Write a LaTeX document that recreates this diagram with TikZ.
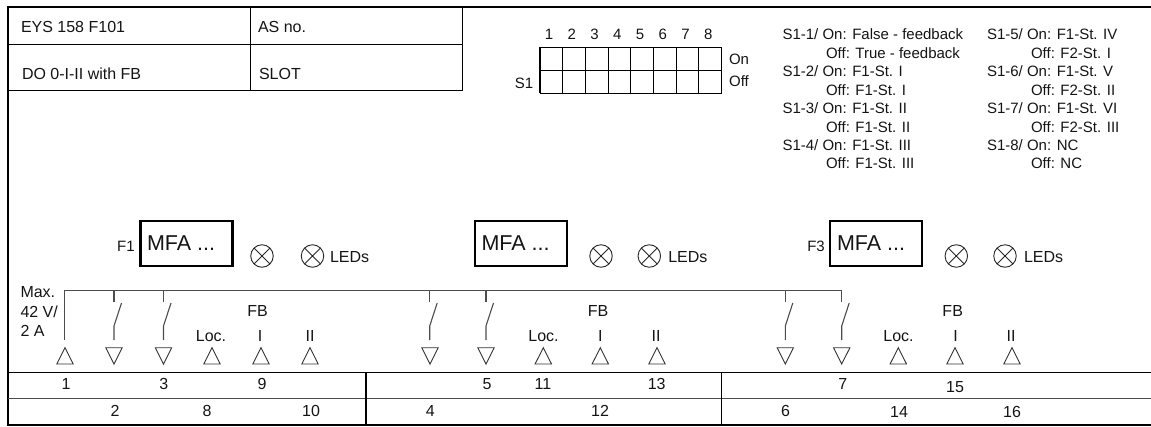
\documentclass[tikz,border=0pt]{standalone}
\usepackage{fontspec}
\setmainfont{Liberation Sans}
\tikzset{
  every node/.style={inner sep=0pt,outer sep=0pt,text=black!92},
  lbl/.style={font=\fontsize{16}{16}\selectfont,anchor=center},
  sml/.style={font=\fontsize{15}{15}\selectfont,anchor=center},
  lft/.style={font=\fontsize{16}{16}\selectfont,anchor=west},
  leg/.style={font=\fontsize{15}{15}\selectfont,anchor=west},
  mfabox/.style={draw=black,line width=2.2pt,minimum width=92pt,minimum height=45pt},
  mfatxt/.style={font=\fontsize{21.5}{22}\selectfont,anchor=west},
  ring/.style={draw=black!85,line width=0.9pt,circle,minimum size=22.5pt},
  wire/.style={draw=black!70,line width=1.1pt},
  thin line/.style={draw=black,line width=1.1pt},
  frame/.style={draw=black,line width=2.4pt},
  tri/.style={draw=black!80,line width=0.9pt},
}
\newcommand{\uptri}[1]{\draw[tri] (#1-8.2,364) -- (#1+8.2,364) -- (#1,347.7) -- cycle;}
\newcommand{\dntri}[1]{\draw[tri] (#1-8.2,347.7) -- (#1+8.2,347.7) -- (#1,364) -- cycle;}
\newcommand{\swt}[1]{
  \draw[wire] (#1,291) -- (#1,302);
  \draw[wire] (#1,340) -- (#1,326) -- (#1+7.5,303);
}
\newcommand{\lampat}[2]{
  \node[ring] (#2) at (#1,256) {};
  \draw[black!85,line width=0.9pt] (#2.45) -- (#2.225) (#2.135) -- (#2.315);
}
\begin{document}
\begin{tikzpicture}[x=1pt,y=-1pt]
\useasboundingbox (0,0) rectangle (1151,426);
% outer frame
\draw[frame] (1151,7) -- (8,7) -- (8,425) -- (1151,425);
% title table
\draw[thin line] (8,44.3) -- (462.5,44.3) (8,90.3) -- (462.5,90.3) (462.5,7) -- (462.5,90.3) (250.3,7) -- (250.3,90.3);
\node[lft] (t1) at (21,27) {EYS 158 F101};
\node[lft] (t2) at (258,27) {AS no.};
\node[lft] (t3) at (22,74) {DO 0-I-II with FB};
\node[lft] (t4) at (259,74) {SLOT};
% DIP switch
\foreach \i in {0,...,8} \draw[thin line] (540+\i*22.7,47.3) -- (540+\i*22.7,93.3);
\draw[thin line] (540,47.3) -- (721.6,47.3) (540,70.3) -- (721.6,70.3) (540,93.3) -- (721.6,93.3);
\foreach \i in {1,...,8} \node[sml] (n\i) at (549+\i*22.75-22.75,34) {\i};
\node[sml] (s1) at (524,83) {S1};
\node[sml] (on) at (739,59) {On};
\node[sml] (off) at (739,81) {Off};
% legend
\foreach \y/\tx [count=\k] in {34/{S1-1/ On: False - feedback},71.5/{S1-2/ On: F1-St. I},108/{S1-3/ On: F1-St. II},145/{S1-4/ On: F1-St. III}}
  \node[leg] (la\k) at (782.5,\y) {\tx};
\foreach \y/\tx [count=\k] in {52.7/{Off: True - feedback},90/{Off: F1-St. I},126.7/{Off: F1-St. II},163/{Off: F1-St. III}}
  \node[leg] (lb\k) at (826,\y) {\tx};
\foreach \y/\tx [count=\k] in {34/{S1-5/ On: F1-St. IV},71.5/{S1-6/ On: F1-St. V},108/{S1-7/ On: F1-St. VI},145/{S1-8/ On: NC}}
  \node[leg] (lc\k) at (987,\y) {\tx};
\foreach \y/\tx [count=\k] in {52.7/{Off: F2-St. I},90/{Off: F2-St. II},126.7/{Off: F2-St. III},163/{Off: NC}}
  \node[leg] (ld\k) at (1031,\y) {\tx};
% MFA blocks
\node[mfabox] (b1) at (186.5,243.5) {};
\node[mfabox] (b2) at (520.7,243.5) {};
\node[mfabox] (b3) at (876.3,243.5) {};
\node[mfatxt] (m1) at (147,243) {MFA ...};
\node[mfatxt] (m2) at (481.5,243) {MFA ...};
\node[mfatxt] (m3) at (837,243) {MFA ...};
\node[sml] (f1) at (126,246) {F1};
\node[sml] (f3) at (816,246) {F3};
\lampat{262}{c1}\lampat{312.5}{c2}
\lampat{601}{c3}\lampat{649.3}{c4}
\lampat{956.3}{c5}\lampat{1005}{c6}
\node[lft] (e1) at (330,257) {LEDs};
\node[lft] (e2) at (668.3,257) {LEDs};
\node[lft] (e3) at (1024,257) {LEDs};
% bus
\draw[wire] (64.5,340) -- (64.5,290.7) -- (841.7,290.7) -- (841.7,302);
\swt{114}\swt{163.5}\swt{429.7}\swt{486}\swt{785.3}
\draw[wire] (841.7,340) -- (841.7,326) -- (849.2,303);
\node[lft] (v1) at (20.5,292) {Max.};
\node[lft] (v2) at (20.5,311.5) {42 V/};
\node[lft] (v3) at (20.5,331) {2 A};
% triangles
\foreach \x in {65,212,261,310,543.3,600.3,657,898.3,955,1012} \uptri{\x};
\foreach \x in {114,163.5,430,486,785.3,841.7} \dntri{\x};
% FB labels
\foreach \x/\k in {257.5/a,598/b,952.7/c} \node[lbl] (fb\k) at (\x,311) {FB};
\foreach \x/\k in {211/a,543.5/b,898.5/c} \node[lbl] (loc\k) at (\x,336) {Loc.};
\foreach \x/\k in {260/a,600.3/b,955.7/c} \node[lbl] (i\k) at (\x,336) {I};
\foreach \x/\k in {310/a,656/b,1011/c} \node[lbl] (ii\k) at (\x,336) {II};
% terminal strip
\draw[thin line] (8,372.7) -- (1151,372.7);
\draw[draw=black!70,line width=1.2pt] (8,398.7) -- (1151,398.7);
\draw[thin line] (366,372.7) -- (366,425) (721.7,372.7) -- (721.7,425);
\foreach \x/\y/\tx in {66/384/1,163.7/384/3,262/384/9,487/384/5,543/384/11,656.7/384/13,842.7/384/7,955/387/15,115/410.5/2,207/410.5/8,311/410.5/10,430.3/410.5/4,600/410.5/12,785.5/410.5/6,899/412/14,1012/412/16}
  \node[lbl] (k\tx) at (\x,\y) {\tx};
\end{tikzpicture}
\end{document}
